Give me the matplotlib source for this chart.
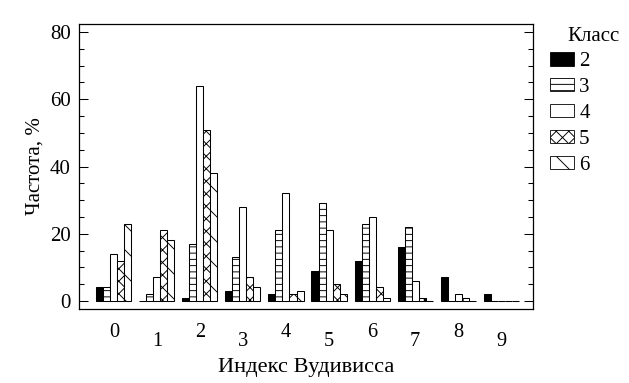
import matplotlib
matplotlib.use("Agg")
import matplotlib.pyplot as plt
from matplotlib.patches import Patch
from matplotlib.ticker import MultipleLocator
import numpy as np

plt.rcParams['font.family'] = ['Liberation Serif', 'DejaVu Serif']
plt.rcParams['hatch.linewidth'] = 0.9

# Woodiwiss index groups and frequency (%) per class
index_values = [0, 1, 2, 3, 4, 5, 6, 7, 8, 9]
class_labels = ['2', '3', '4', '5', '6']
class2 = [4, 0, 1, 3, 2, 9, 12, 16, 7, 2]
class3 = [4, 2, 17, 13, 21, 29, 23, 22, 0, 0]
class4 = [14, 7, 64, 28, 32, 21, 25, 6, 2, 0]
class5 = [12, 21, 51, 7, 2, 5, 4, 1, 1, 0]
class6 = [23, 18, 38, 4, 3, 2, 1, 0, 0, 0]

series = [class2, class3, class4, class5, class6]
faces = ['black', 'white', 'white', 'white', 'white']
hatches = [None, '--', None, 'xx', '\\']

dpi = 75
fig = plt.figure(figsize=(629 / dpi, 383 / dpi), dpi=dpi)
ax = fig.add_axes([79 / 629, 1 - 309 / 383, 454 / 629, 285 / 383])

x = np.arange(len(index_values))
w = 0.163
for i, vals in enumerate(series):
    ax.bar(x + (i - 2) * w, vals, w, color=faces[i], edgecolor='black',
           hatch=hatches[i], linewidth=1.0)

ax.set_xlim(-0.81, 9.74)
ax.set_ylim(-2.4, 82.4)

ax.yaxis.set_major_locator(MultipleLocator(20))
ax.yaxis.set_minor_locator(MultipleLocator(5))
ax.tick_params(axis='y', which='both', direction='in', left=True, right=True,
               labelsize=20, pad=8, width=1.0)
ax.tick_params(axis='y', which='major', length=9)
ax.tick_params(axis='y', which='minor', length=5)
ax.set_xticks([])
for sp in ax.spines.values():
    sp.set_linewidth(1.2)

# staggered x labels
for i, v in enumerate(index_values):
    yy = -0.098 if i % 2 == 0 else -0.130
    ax.text(v, yy, str(v), transform=ax.get_xaxis_transform(), ha='center',
            va='baseline', fontsize=19.5)

ax.text(0.5, -0.221, 'Индекс Вудивисса', transform=ax.transAxes, ha='center',
        va='baseline', fontsize=21.5)
ax.set_ylabel('Частота, %', fontsize=20, labelpad=5)

handles = [Patch(facecolor=faces[i], edgecolor='black', hatch=hatches[i], linewidth=0.8)
           for i in range(len(class_labels))]
fig.legend(handles, class_labels, loc='upper left', bbox_to_anchor=(550 / 629, 1 - 52 / 383),
           frameon=False, fontsize=20, handlelength=1.15, handleheight=0.62,
           handletextpad=0.25, labelspacing=0.33, borderpad=0, borderaxespad=0)
fig.text(567 / 629, 1 - 41 / 383, 'Класс', ha='left', va='baseline', fontsize=20)

fig.savefig('out.png', dpi=dpi)
